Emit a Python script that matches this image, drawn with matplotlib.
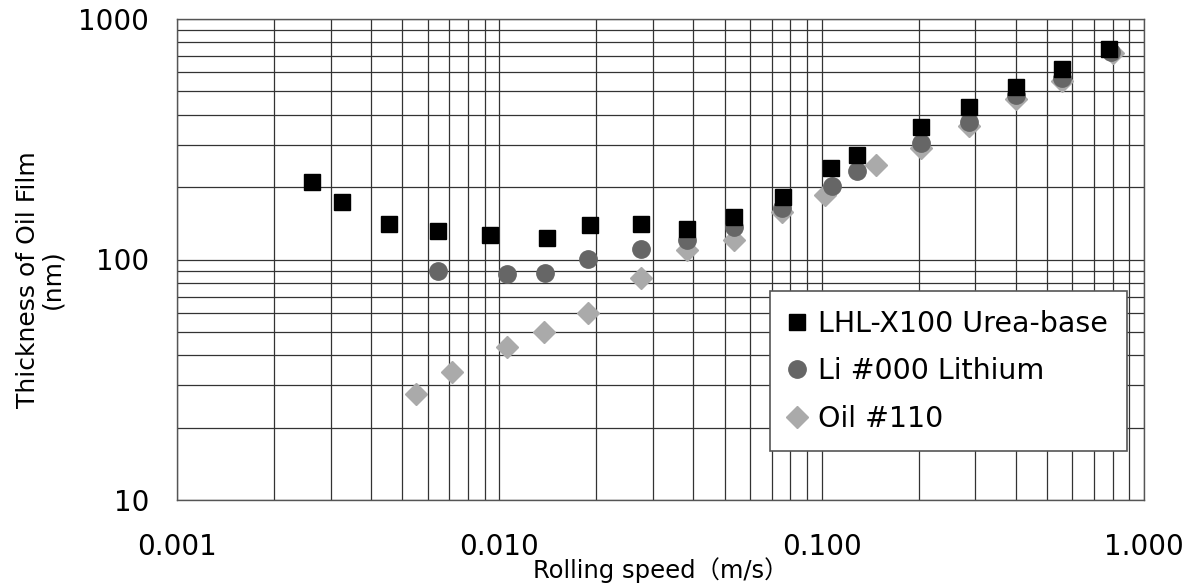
import numpy as np
import matplotlib
matplotlib.use("Agg")
import matplotlib.pyplot as plt
from matplotlib.ticker import LogLocator, FixedLocator, FixedFormatter, NullFormatter

plt.rcParams['font.family'] = ['DejaVu Sans', 'Noto Sans CJK JP']

# LHL-X100 Urea-base (squares)
urea_speed = [0.00262, 0.00324, 0.00455, 0.00644, 0.00935, 0.0141, 0.0191, 0.0275,
              0.0381, 0.0535, 0.0760, 0.1066, 0.1285, 0.2034, 0.2864, 0.401, 0.5585, 0.780]
urea_thick = [211, 174, 140, 132, 127, 123, 139, 140,
              134, 150, 182, 241, 272, 357, 432, 523, 620, 750]

# Li #000 Lithium (circles)
li_speed = [0.00646, 0.0106, 0.01387, 0.01888, 0.0275, 0.0381, 0.0535, 0.0755,
            0.1075, 0.1285, 0.2034, 0.2864, 0.401, 0.5585, 0.791]
li_thick = [89.8, 86.8, 87.9, 100.5, 111, 120, 136, 163,
            202, 233, 304, 374, 483, 566, 731]

# Oil #110 (diamonds)
oil_speed = [0.0055, 0.00715, 0.0106, 0.0138, 0.01888, 0.0275, 0.0381, 0.0535,
             0.0755, 0.1025, 0.1475, 0.2034, 0.2864, 0.401, 0.5585, 0.80]
oil_thick = [27.5, 34.2, 43.4, 50.1, 59.7, 83.5, 110, 120,
             158, 186, 247, 292, 360, 465, 550, 725]

x_ticks = [0.001, 0.01, 0.1, 1.0]
x_tick_labels = ['0.001', '0.010', '0.100', '1.000']
y_ticks = [10, 100, 1000]
y_tick_labels = ['10', '100', '1000']

fig = plt.figure(figsize=(11.88, 5.86), dpi=100)
ax = fig.add_axes([177 / 1188, 1 - 500 / 586, (1144 - 177) / 1188, (500 - 19) / 586])

ax.set_xscale('log')
ax.set_yscale('log')
ax.set_xlim(0.001, 1.0)
ax.set_ylim(10, 1000)

ax.plot(oil_speed, oil_thick, linestyle='none', marker='D', ms=11,
        color='#aaaaaa', label='Oil #110', zorder=3)
ax.plot(li_speed, li_thick, linestyle='none', marker='o', ms=12.5,
        color='#666666', label='Li #000 Lithium', zorder=4)
ax.plot(urea_speed, urea_thick, linestyle='none', marker='s', ms=11.5,
        color='black', label='LHL-X100 Urea-base', zorder=5)

ax.xaxis.set_major_locator(FixedLocator(x_ticks))
ax.xaxis.set_major_formatter(FixedFormatter(x_tick_labels))
ax.yaxis.set_major_locator(FixedLocator(y_ticks))
ax.yaxis.set_major_formatter(FixedFormatter(y_tick_labels))
ax.xaxis.set_minor_locator(LogLocator(base=10, subs=np.arange(2, 10)))
ax.yaxis.set_minor_locator(LogLocator(base=10, subs=np.arange(2, 10)))
ax.xaxis.set_minor_formatter(NullFormatter())
ax.yaxis.set_minor_formatter(NullFormatter())

ax.grid(True, which='both', color='#333333', linewidth=0.9)
ax.set_axisbelow(True)
for s in ax.spines.values():
    s.set_color('#555555')
    s.set_linewidth(1.0)

ax.tick_params(axis='both', which='both', length=0)
ax.tick_params(axis='x', labelsize=20, pad=24)
ax.tick_params(axis='y', labelsize=20, pad=20)

ax.set_xlabel('Rolling speed（m/s）', fontsize=17.5)
ax.xaxis.set_label_coords(0.5, -0.118)
ax.set_ylabel('Thickness of Oil Film\n(nm)', fontsize=18, linespacing=1.05)
ax.yaxis.set_label_coords(-0.116, 0.459)

handles, labels = ax.get_legend_handles_labels()
leg = ax.legend(handles[::-1], labels[::-1], loc='upper left',
                bbox_to_anchor=(0.613, 0.4345), fontsize=20.5, frameon=True,
                fancybox=False, framealpha=1, edgecolor='#555555',
                handlelength=0.6, handletextpad=0.45, borderpad=0.65,
                labelspacing=0.69, borderaxespad=0)
leg.get_frame().set_linewidth(1.2)
leg.set_zorder(10)

fig.savefig('out.png', dpi=100)
